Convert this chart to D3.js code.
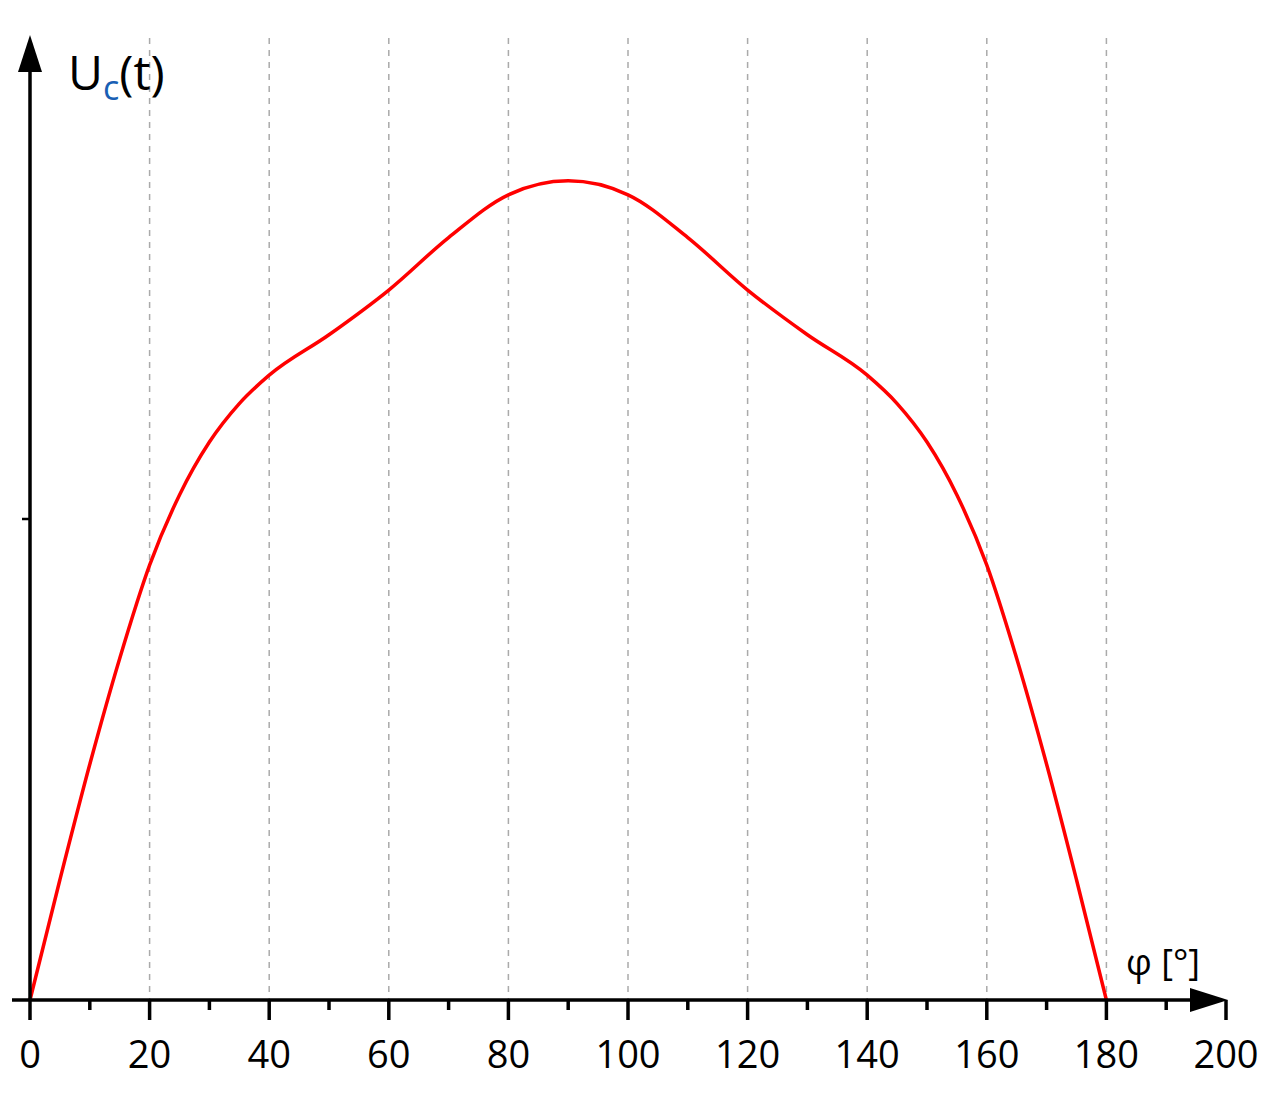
<!DOCTYPE html>
<html><head><meta charset="utf-8">
<script src="https://cdn.jsdelivr.net/npm/d3@7"></script>
<style>body{margin:0;background:#fff}</style>
</head><body>
<svg id="chart" width="1273" height="1096"></svg>
<script>
var phi=[0,5,10,15,20,25,30,35,40,50,60,70,80,90,100,110,120,130,140,145,150,155,160,165,170,175,180];
var uc=[0,0.25,0.49,0.71,0.904,1.05,1.16,1.24,1.299,1.383,1.476,1.585,1.674,1.703,1.674,1.585,1.476,1.383,1.299,1.24,1.16,1.05,0.904,0.71,0.49,0.25,0];
var xTicks=[0,20,40,60,80,100,120,140,160,180,200];
var minorTicks=[10,30,50,70,90,110,130,150,170,190];
var gridLines=[20,40,60,80,100,120,140,160,180];

var svg=d3.select("#chart");
var x=d3.scaleLinear().domain([0,200]).range([30,1226]);
var y=d3.scaleLinear().domain([0,1]).range([1000,519]);

// grid
svg.append("g").selectAll("line").data(gridLines).join("line")
  .attr("x1",d=>x(d)).attr("x2",d=>x(d)).attr("y1",38).attr("y2",1000)
  .attr("stroke","#aaa").attr("stroke-width",1.5).attr("stroke-dasharray","6,6");

// curve
svg.append("path").datum(phi.map((p,i)=>[p,uc[i]]))
  .attr("d",d3.line().x(d=>x(d[0])).y(d=>y(d[1])).curve(d3.curveMonotoneX))
  .attr("fill","none").attr("stroke","#f00").attr("stroke-width",3.5);

// axes
svg.append("line").attr("x1",12).attr("x2",1200).attr("y1",1000).attr("y2",1000).attr("stroke","#000").attr("stroke-width",3.5);
svg.append("path").attr("d","M1228,1000 L1190,988 L1190,1012 Z").attr("fill","#000");
svg.append("line").attr("x1",30).attr("x2",30).attr("y1",1000).attr("y2",65).attr("stroke","#000").attr("stroke-width",3.5);
svg.append("path").attr("d","M30,35 L18,72 L42,72 Z").attr("fill","#000");
svg.append("line").attr("x1",22).attr("x2",30).attr("y1",y(1)).attr("y2",y(1)).attr("stroke","#000").attr("stroke-width",2.5);

svg.append("g").selectAll("line").data(xTicks).join("line")
  .attr("x1",d=>x(d)).attr("x2",d=>x(d)).attr("y1",1000).attr("y2",1020).attr("stroke","#000").attr("stroke-width",3.5);
svg.append("g").selectAll("line").data(minorTicks).join("line")
  .attr("x1",d=>x(d)).attr("x2",d=>x(d)).attr("y1",1000).attr("y2",1010).attr("stroke","#000").attr("stroke-width",3.5);
svg.append("g").selectAll("text").data(xTicks).join("text")
  .attr("x",d=>x(d)).attr("y",1068).attr("text-anchor","middle")
  .style("font-family","'Open Sans',sans-serif").style("font-size","38px").text(d=>d);

// labels
var t=svg.append("text").attr("x",68).attr("y",90).style("font-family","'Open Sans',sans-serif").style("font-size","48px");
t.append("tspan").text("U");
t.append("tspan").attr("dy",10).attr("fill","#1a5fb4").style("font-size","34px").text("c");
t.append("tspan").attr("dy",-10).text("(t)");
svg.append("text").attr("x",1126).attr("y",975).style("font-family","'Open Sans',sans-serif").style("font-size","36px").text("φ [°]");
</script>
</body></html>
